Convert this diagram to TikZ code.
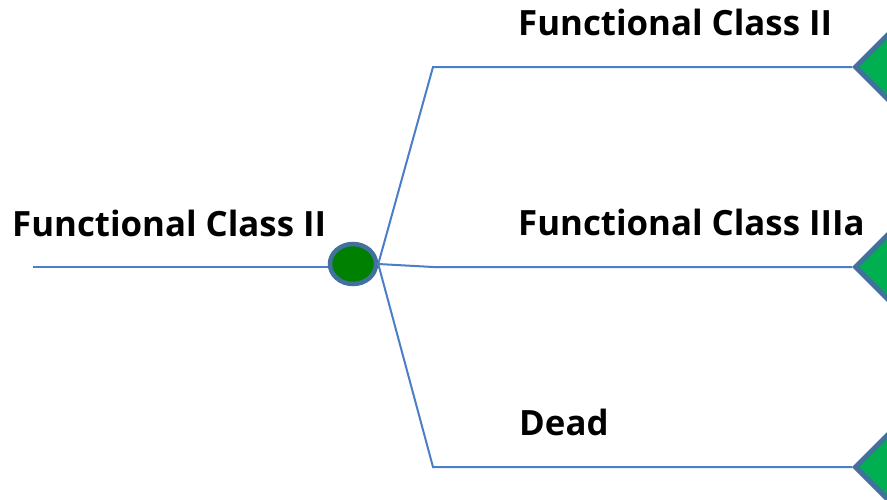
\documentclass[tikz,border=0pt]{standalone}
\usepackage{fontspec}
\setmainfont{Open Sans}
\usetikzlibrary{
    positioning,
    shapes.geometric
}
\definecolor{AzulLinha}{HTML}{4A7EC8}
\definecolor{AzulBorda}{HTML}{41719C}
\definecolor{VerdeNo}{HTML}{008000}
\definecolor{VerdeFim}{HTML}{00B050}

\tikzset{
    rotulo/.style={
        anchor=base west,
        inner sep=0pt,
        font=\fontsize{34.8}{34.8}\selectfont\bfseries
    },
    ramo/.style={
        draw=AzulLinha,
        line width=2pt
    },
    fim/.style={
        diamond,
        draw=AzulBorda,
        fill=VerdeFim,
        line width=5pt,
        minimum width=96pt,
        minimum height=96pt,
        aspect=1
    }
}

\begin{document}
\begin{tikzpicture}[x=1pt,y=-1pt]
                \clip (0,0) rectangle (887,499);
                \fill[white] (0,0) rectangle (887,499);

                \node[
                    ellipse,
                    draw=AzulBorda,
                    fill=VerdeNo,
                    line width=4.5pt,
                    minimum width=46pt,
                    minimum height=40pt,
                    inner sep=0pt
                ] (chance) at (353,264) {};

                \coordinate (inicio) at (33,267);
                \coordinate (cantoA) at (433,67);
                \coordinate (cantoB) at (433,267);
                \coordinate (cantoC) at (433,467);

                \node[fim, anchor=west] (fimA) at (852,67) {};
                \node[fim, anchor=west] (fimB) at (852,267) {};
                \node[fim, anchor=west] (fimC) at (852,467) {};

                \draw[ramo] (inicio) -- (inicio -| chance.west);
                \draw[ramo] (chance.east) -- (cantoA) -- (fimA.west);
                \draw[ramo] (chance.east) -- (cantoB) -- (fimB.west);
                \draw[ramo] (chance.east) -- (cantoC) -- (fimC.west);

                \node[rotulo] (txtInicio) at (12,236) {Functional Class II};
                \node[rotulo] (txtA) at (518,35) {Functional Class II};
                \node[rotulo] (txtB) at (518,235) {Functional Class IIIa};
                \node[rotulo] (txtC) at (519,435) {Dead};
            \end{tikzpicture}
\end{document}
